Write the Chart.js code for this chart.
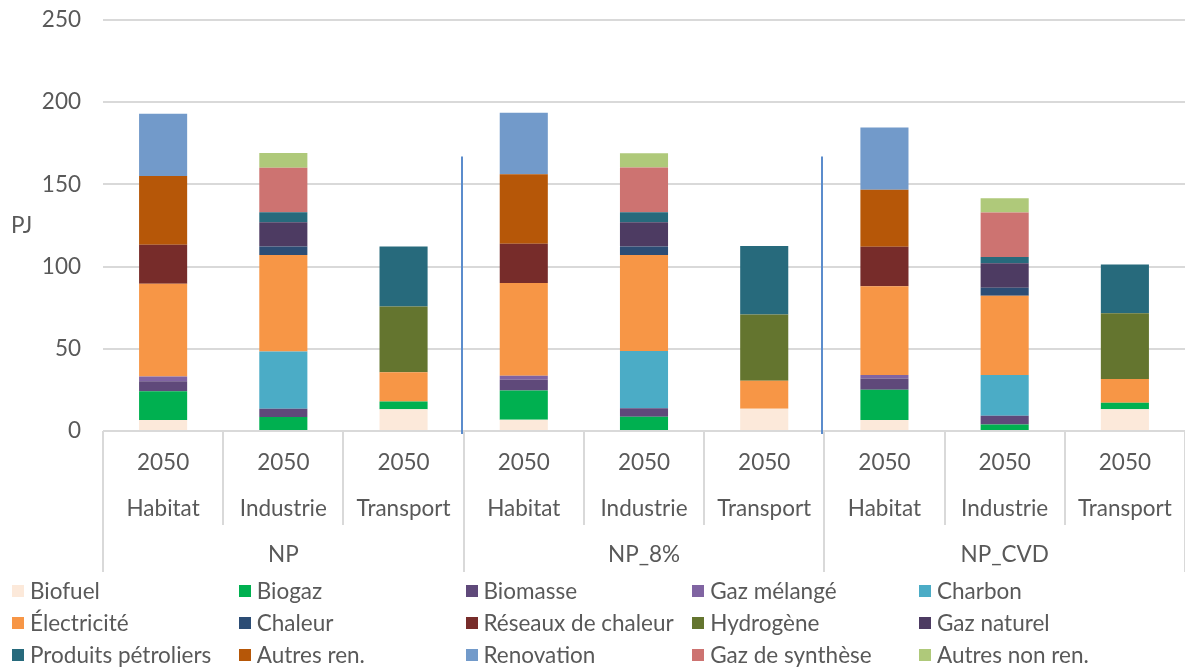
<!DOCTYPE html>
<html>
<head>
<meta charset="utf-8">
<script src="https://cdn.jsdelivr.net/npm/chart.js@4/dist/chart.umd.min.js"></script>
<style>
  html, body { margin:0; padding:0; background:#fff; }
  #wrap { position:relative; width:1185px; height:668px; overflow:hidden; }
  #c { position:absolute; left:0; top:0; }
  .lg { position:absolute; font-family:Lato, sans-serif; font-size:22.5px; color:#595959; white-space:nowrap; line-height:24px; }
  .lg span.sw { display:inline-block; width:12px; height:12px; margin-right:6px; vertical-align:middle; position:relative; top:-2px; }
</style>
</head>
<body>
<div id="wrap">
<canvas id="c" width="1185" height="668"></canvas>
</div>
<script>
// Category labels (multi-level axis)
const years     = ['2050','2050','2050','2050','2050','2050','2050','2050','2050'];
const sectors   = ['Habitat','Industrie','Transport','Habitat','Industrie','Transport','Habitat','Industrie','Transport'];
const scenarios = ['NP','NP_8%','NP_CVD'];
const yTicks    = [0, 50, 100, 150, 200, 250];
const yTitle    = 'PJ';

// Series values (PJ), one entry per category above
const biofuel        = [6.7, 0, 13.3, 6.9, 0, 13.5, 6.7, 0, 13.2];
const biogaz         = [17.5, 8.5, 4.7, 17.8, 8.7, 0, 18.4, 4.0, 4.0];
const biomasse       = [6.0, 5.0, 0, 6.4, 5.1, 0, 6.9, 5.3, 0];
const gazMelange     = [3.0, 0, 0, 2.5, 0, 0, 2.0, 0, 0];
const charbon        = [0, 34.9, 0, 0, 34.9, 0, 0, 24.7, 0];
const electricite    = [56.4, 58.6, 17.8, 56.4, 58.3, 17.0, 54.0, 48.3, 14.4];
const chaleur        = [0, 5.3, 0, 0, 5.3, 0, 0, 4.9, 0];
const reseaux        = [23.7, 0, 0, 23.9, 0, 0, 24.1, 0, 0];
const hydrogene      = [0, 0, 40.0, 0, 0, 40.3, 0, 0, 40.0];
const gazNaturel     = [0, 14.7, 0, 0, 14.7, 0, 0, 14.9, 0];
const produitsPetro  = [0, 6.0, 36.5, 0, 6.0, 41.7, 0, 3.7, 29.7];
const autresRen      = [41.8, 0, 0, 42.2, 0, 0, 34.7, 0, 0];
const renovation     = [37.9, 0, 0, 37.5, 0, 0, 37.8, 0, 0];
const gazSynthese    = [0, 27.2, 0, 0, 27.3, 0, 0, 27.1, 0];
const autresNonRen   = [0, 8.9, 0, 0, 8.7, 0, 0, 8.7, 0];

const seriesNames = ['Biofuel','Biogaz','Biomasse','Gaz mélangé','Charbon','Électricité','Chaleur','Réseaux de chaleur','Hydrogène','Gaz naturel','Produits pétroliers','Autres ren.','Renovation','Gaz de synthèse','Autres non ren.'];
const seriesData  = [biofuel, biogaz, biomasse, gazMelange, charbon, electricite, chaleur, reseaux, hydrogene, gazNaturel, produitsPetro, autresRen, renovation, gazSynthese, autresNonRen];
const seriesColors = ['#fce9da','#00b050','#5f497a','#8064a2','#4bacc6','#f79646','#2c4d75','#772c2a','#64752f','#4d3b62','#276a7c','#b65708','#729aca','#cd7371','#afc97a'];

const TEXT = '#595959';
const FONT = 'Lato, sans-serif';
const FS = 22.5;

const datasets = seriesNames.map((n, i) => ({
  label: n,
  data: seriesData[i].map(v => v === 0 ? null : v),
  backgroundColor: seriesColors[i],
  borderWidth: 0,
  barPercentage: 0.4,
  categoryPercentage: 1.0
}));

const multiAxis = {
  id: 'multiAxis',
  afterDraw(chart) {
    const ctx = chart.ctx;
    const xs = chart.scales.x, ys = chart.scales.y;
    const ca = chart.chartArea;
    const n = sectors.length;
    const step = (ca.right - ca.left) / n;
    ctx.save();
    // separators
    ctx.strokeStyle = '#d9d9d9';
    ctx.lineWidth = 2;
    for (let i = 0; i <= n; i++) {
      const x = Math.round(ca.left + i * step);
      const isGroup = (i % 3 === 0);
      ctx.beginPath();
      ctx.moveTo(x, ca.bottom);
      ctx.lineTo(x, isGroup ? ca.bottom + 141 : ca.bottom + 94);
      ctx.stroke();
    }
    // texts
    ctx.fillStyle = TEXT;
    ctx.font = FS + 'px ' + FONT;
    ctx.textAlign = 'center';
    ctx.textBaseline = 'middle';
    for (let i = 0; i < n; i++) {
      const cx = xs.getPixelForValue(i);
      ctx.fillText(years[i], cx, ca.bottom + 32);
      ctx.fillText(sectors[i], cx, ca.bottom + 78);
    }
    scenarios.forEach((s, g) => {
      const cx = ca.left + (g * 3 + 1.5) * step;
      ctx.fillText(s, cx, ca.bottom + 124);
    });
    // y title (horizontal)
    ctx.textAlign = 'left';
    ctx.fillText(yTitle, 11, (ca.top + ca.bottom) / 2);
    // blue scenario dividers
    ctx.strokeStyle = '#5b8ccc';
    ctx.lineWidth = 2;
    for (let g = 1; g < scenarios.length; g++) {
      const x = Math.round(ca.left + g * 3 * step) - 2;
      ctx.beginPath();
      ctx.moveTo(x, ys.getPixelForValue(167));
      ctx.lineTo(x, ca.bottom + 3);
      ctx.stroke();
    }
    ctx.restore();
  }
};

new Chart(document.getElementById('c'), {
  type: 'bar',
  data: { labels: sectors, datasets },
  options: {
    responsive: false,
    animation: false,
    layout: { padding: { top: 20, bottom: 237, left: 0, right: 0 } },
    plugins: { legend: { display: false }, tooltip: { enabled: false } },
    scales: {
      x: {
        stacked: true,
        ticks: { display: false },
        grid: { display: false },
        border: { display: false },
        afterFit(s) { s.height = 0; s.paddingLeft = 0; s.paddingRight = 0; }
      },
      y: {
        stacked: true,
        min: yTicks[0], max: yTicks[yTicks.length - 1],
        afterBuildTicks(s) { s.ticks = yTicks.map(v => ({ value: v })); },
        ticks: { padding: 22, color: TEXT, font: { family: FONT, size: FS } },
        grid: { color: '#d9d9d9', lineWidth: 2, drawTicks: false },
        border: { display: false },
        afterFit(s) { s.width = 103; s.paddingTop = 0; s.paddingBottom = 0; }
      }
    }
  },
  plugins: [multiAxis]
});

// legend (HTML grid, 5 columns)
const wrap = document.getElementById('wrap');
seriesNames.forEach((n, i) => {
  const row = Math.floor(i / 5), col = i % 5;
  const d = document.createElement('div');
  d.className = 'lg';
  d.style.left = (12 + col * 226.75) + 'px';
  d.style.top = (591 - 12 + row * 32) + 'px';
  const sw = document.createElement('span');
  sw.className = 'sw';
  sw.style.background = seriesColors[i];
  d.appendChild(sw);
  d.appendChild(document.createTextNode(n));
  wrap.appendChild(d);
});
</script>
</body>
</html>
